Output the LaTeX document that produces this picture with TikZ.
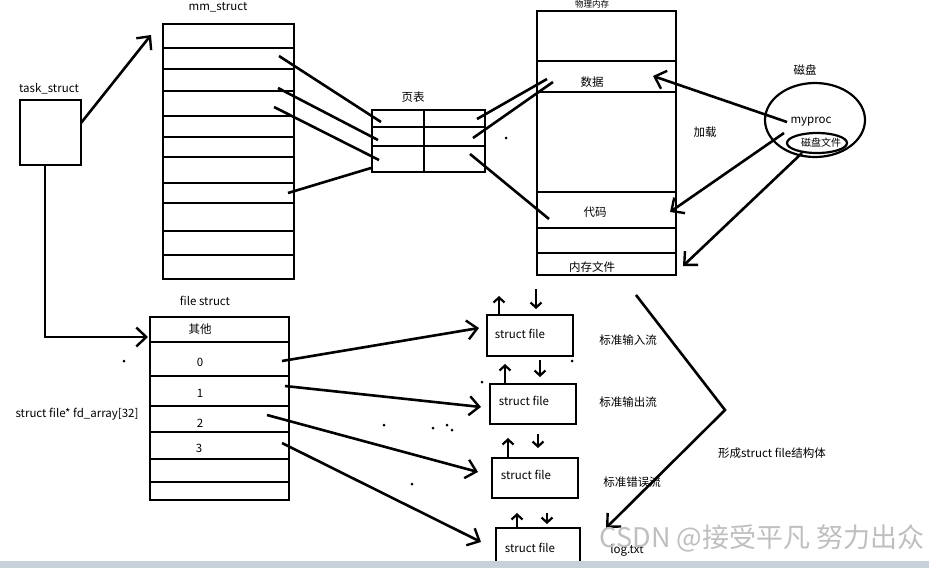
\documentclass[tikz,border=0pt]{standalone}
\usepackage{fontspec}
\setmainfont{Noto Sans CJK SC}
\usetikzlibrary{arrows.meta,shapes.geometric}
\definecolor{barc}{RGB}{200,208,218}
\begin{document}
\begin{tikzpicture}[x=1pt,y=-1pt,
  box/.style={draw,line width=2.4pt,inner sep=0pt,anchor=north west},
  rowline/.style={line width=2.4pt},
  wire/.style={line width=2.6pt},
  conn/.style={line width=2.6pt,-{Straight Barb[length=10pt,width=19pt,line width=2.4pt]}},
  small/.style={line width=2.4pt,-{Straight Barb[length=5pt,width=11pt,line width=2.2pt]}},
  lbl/.style={font=\fontsize{11.5}{13}\selectfont,inner sep=1pt},
  dotm/.style={circle,fill,inner sep=0pt,minimum size=3pt}]
\useasboundingbox (0,0) rectangle (929,568);
\fill[white] (0,0) rectangle (929,568);

% task_struct
\node[box,minimum width=61pt,minimum height=65pt] (task) at (19,99) {};
\node[lbl] (tasklbl) at (49,89) {task\_struct};

% mm_struct
\node[box,minimum width=131pt,minimum height=255pt] (mm) at (162,23) {};
\node[lbl] (mmlbl) at (218,7) {mm\_struct};
\foreach \y in {48,69,91,116,137,157,183,203,231,255}
  \draw[rowline] (mm.west |- 0,\y) -- (mm.east |- 0,\y);

% page table
\node[box,minimum width=113pt,minimum height=62pt] (pt) at (371,109) {};
\node[lbl] (ptlbl) at (413,97) {页表};
\foreach \y in {127,146}
  \draw[rowline] (pt.west |- 0,\y) -- (pt.east |- 0,\y);
\draw[rowline] (pt.north -| 424,0) -- (pt.south -| 424,0);

% physical memory
\node[box,minimum width=139pt,minimum height=264pt] (pm) at (536,10) {};
\node[lbl,font=\fontsize{8.5}{9}\selectfont,inner sep=0pt] (pmlbl) at (592,4.5) {物理内存};
\foreach \y in {61,92,192,228,253}
  \draw[rowline] (pm.west |- 0,\y) -- (pm.east |- 0,\y);
\node[lbl] (data) at (592,82) {数据};
\node[lbl] (code) at (595,212) {代码};
\node[lbl] (memfile) at (592,267) {内存文件};

% disk
\node[lbl] (disklbl) at (805,70) {磁盘};
\node[draw,ellipse,line width=2.2pt,minimum width=100pt,minimum height=74pt] (disk) at (815,120) {};
\node[draw,ellipse,line width=2.2pt,minimum width=60pt,minimum height=20pt,inner sep=0pt] (dfile) at (817,143) {};
\node[lbl] (myproc) at (811,122) {myproc};
\node[lbl,font=\fontsize{10}{11}\selectfont] (dfilelbl) at (821,143) {磁盘文件};
\node[lbl] (load) at (705,132) {加载};

% connectors mm -> page table
\coordinate (m1) at (279,56); \coordinate (p1) at (381,122);
\coordinate (m2) at (278,88); \coordinate (p2) at (378,140);
\coordinate (m3) at (274,107); \coordinate (p3) at (379,160);
\coordinate (m4) at (288,193); \coordinate (p4) at (371,168);
\draw[wire] (m1) -- (p1);
\draw[wire] (m2) -- (p2);
\draw[wire] (m3) -- (p3);
\draw[wire] (m4) -- (p4);

% page table -> physical memory
\coordinate (q1) at (477,119); \coordinate (r1) at (547,79);
\coordinate (q2) at (473,138); \coordinate (r2) at (553,82);
\coordinate (q3) at (470,154); \coordinate (r3) at (549,219);
\draw[wire] (q1) -- (r1);
\draw[wire] (q2) -- (r2);
\draw[wire] (q3) -- (r3);

% disk -> memory
\coordinate (d1) at (787,122); \coordinate (e1) at (653,76);
\coordinate (d2) at (784,133); \coordinate (e2) at (670,212);
\coordinate (d3) at (802,153); \coordinate (e3) at (683,266);
\draw[conn] (d1) -- (e1);
\draw[conn] (d2) -- (e2);
\draw[conn] (d3) -- (e3);

% task_struct -> mm_struct
\coordinate (t1) at (81,123); \coordinate (t2) at (151,35);
\draw[conn] (t1) -- (t2);

% file struct
\node[box,minimum width=139pt,minimum height=183pt] (fs) at (149,316) {};
\node[lbl] (fslbl) at (205,301) {file struct};
\foreach \y in {342,376,406,432,459,482}
  \draw[rowline] (fs.west |- 0,\y) -- (fs.east |- 0,\y);
\node[lbl] (other) at (200,329) {其他};
\node[lbl] (fd0) at (200,362) {0};
\node[lbl] (fd1) at (200,393) {1};
\node[lbl] (fd2) at (200,423) {2};
\node[lbl] (fd3) at (199,448) {3};
\node[lbl] (fdarr) at (77,414) {struct file* fd\_array[32]};

% task_struct -> file struct
\coordinate (tb) at (45,164); \coordinate (tc) at (45,337); \coordinate (tf) at (148,337);
\draw[conn] (task.south -| tb) -- (tc) -- (tf);

% struct file boxes
\node[box,minimum width=86pt,minimum height=41pt] (sf1) at (486,314) {};
\node[box,minimum width=86pt,minimum height=40pt] (sf2) at (489,383) {};
\node[box,minimum width=86pt,minimum height=40pt] (sf3) at (491,457) {};
\draw[line width=2.4pt] (496,566) -- (496,528) -- (580,528) -- (580,566);
\coordinate (sf4) at (538,528);
\node[lbl] (sf1t) at (520,334) {struct file};
\node[lbl] (sf2t) at (524,401) {struct file};
\node[lbl] (sf3t) at (526,475) {struct file};
\node[lbl] (sf4t) at (530,548) {struct file};

% fd -> struct file
\coordinate (f0) at (282,361); \coordinate (g0) at (479,328);
\coordinate (f1) at (285,386); \coordinate (g1) at (481,407);
\coordinate (f2) at (267,415); \coordinate (g2) at (478,472);
\coordinate (f3) at (282,443); \coordinate (g3) at (481,542);
\draw[conn] (f0) -- (g0);
\draw[conn] (f1) -- (g1);
\draw[conn] (f2) -- (g2);
\draw[conn] (f3) -- (g3);

% small up/down arrows
\draw[small] (sf1.north -| 499,0) -- (499,296);
\draw[small] (536,289) -- (536,309);
\draw[small] (sf2.north -| 505,0) -- (505,364);
\draw[small] (540,360) -- (540,377);
\draw[small] (sf3.north -| 508,0) -- (508,438);
\draw[small] (538,434) -- (538,448);
\draw[small] (517,528) -- (517,513);
\draw[small] (547,513) -- (547,524);

% stream labels
\node[lbl] (stdin) at (628,340) {标准输入流};
\node[lbl] (stdout) at (628,402) {标准输出流};
\node[lbl] (stderr) at (632,482) {标准错误流};
\node[lbl] (logtxt) at (627,550) {log.txt};
\node[lbl] (form) at (772,453) {形成struct file结构体};

% bracket
\coordinate (b1) at (636,295); \coordinate (b2) at (725,410); \coordinate (b3) at (606,528);
\draw[conn] (b1) -- (b2) -- (b3);

% stray dots
\foreach \p in {(506,138),(124,361),(384,425),(433,428),(447,425),(452,430),(412,484),(482,382),(572,361)}
  \node[dotm] at \p {};

% watermark and bottom bar
\node[font=\fontsize{27}{30}\selectfont,text=gray!50,inner sep=0pt] (wm) at (762,538) {CSDN @接受平凡 努力出众};
\fill[barc] (0,561) rectangle (929,568);
\end{tikzpicture}
\end{document}
